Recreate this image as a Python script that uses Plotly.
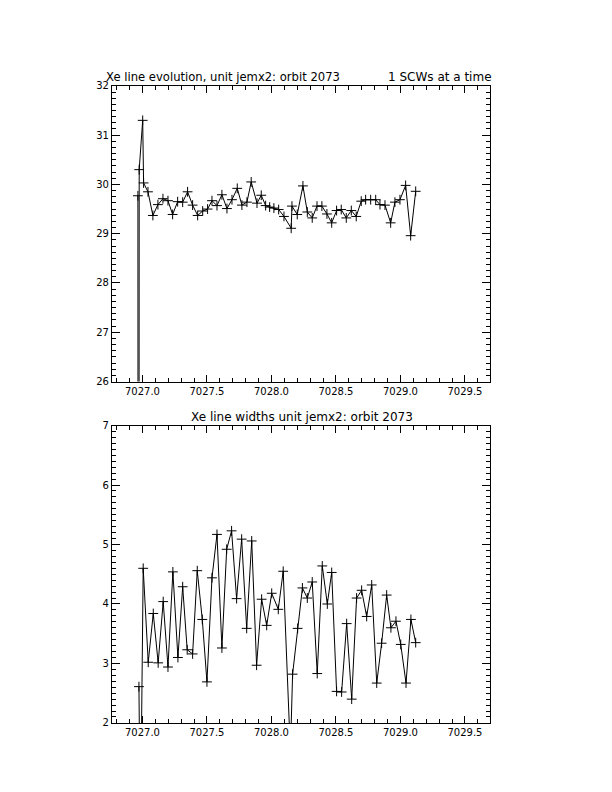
import plotly.graph_objects as go

# Xe line position per SCW (top panel)
t_pos = [7026.965, 7026.969, 7026.975, 7027.002, 7027.009, 7027.043, 7027.081, 7027.120,
         7027.159, 7027.198, 7027.234, 7027.273, 7027.312, 7027.350, 7027.389, 7027.428,
         7027.467, 7027.505, 7027.539, 7027.578, 7027.616, 7027.655, 7027.694, 7027.735,
         7027.771, 7027.810, 7027.843, 7027.888, 7027.921, 7027.955, 7027.986, 7028.019,
         7028.056, 7028.097, 7028.153, 7028.159, 7028.200, 7028.244, 7028.278, 7028.316,
         7028.353, 7028.391, 7028.430, 7028.467, 7028.505, 7028.541, 7028.580, 7028.619,
         7028.657, 7028.696, 7028.730, 7028.769, 7028.808, 7028.841, 7028.880, 7028.924,
         7028.957, 7028.996, 7029.040, 7029.079, 7029.118]
line_pos = [29.77, 0.0, 30.30, 31.30, 30.03, 29.85, 29.37, 29.59, 29.71, 29.67,
            29.39, 29.65, 29.64, 29.85, 29.58, 29.37, 29.46, 29.50, 29.67, 29.57,
            29.79, 29.51, 29.69, 29.92, 29.58, 29.64, 30.05, 29.62, 29.78, 29.57,
            29.54, 29.52, 29.49, 29.35, 29.11, 29.56, 29.39, 29.97, 29.44, 29.32,
            29.56, 29.56, 29.40, 29.22, 29.47, 29.49, 29.32, 29.47, 29.35, 29.66,
            29.69, 29.69, 29.69, 29.59, 29.58, 29.22, 29.64, 29.69, 29.98, 28.96,
            29.86]

# Xe line widths per SCW (bottom panel)
t_wid = [7026.973, 7026.984, 7027.006, 7027.045, 7027.084, 7027.122, 7027.161, 7027.198,
         7027.236, 7027.275, 7027.312, 7027.347, 7027.389, 7027.425, 7027.464, 7027.500,
         7027.539, 7027.578, 7027.616, 7027.653, 7027.691, 7027.730, 7027.769, 7027.808,
         7027.847, 7027.885, 7027.924, 7027.963, 7028.002, 7028.053, 7028.091, 7028.147,
         7028.164, 7028.203, 7028.240, 7028.278, 7028.316, 7028.355, 7028.394, 7028.433,
         7028.467, 7028.505, 7028.544, 7028.583, 7028.622, 7028.660, 7028.699, 7028.738,
         7028.777, 7028.816, 7028.854, 7028.893, 7028.926, 7028.965, 7029.002, 7029.043,
         7029.081, 7029.118]
line_wid = [2.61, 0.0, 4.60, 3.02, 3.84, 3.01, 4.04, 2.94, 4.54, 3.10,
            4.29, 3.23, 3.16, 4.56, 3.74, 2.69, 4.44, 5.17, 3.26, 4.92,
            5.23, 4.09, 5.09, 3.59, 5.06, 2.97, 4.08, 3.64, 4.18, 3.91,
            4.55, 1.50, 2.82, 3.59, 4.27, 4.10, 4.37, 2.83, 4.64, 4.00,
            4.53, 2.53, 2.52, 3.67, 2.40, 4.10, 4.23, 3.79, 4.32, 2.67,
            3.34, 4.15, 3.60, 3.71, 3.32, 2.67, 3.74, 3.35]

top_title = "Xe line evolution, unit jemx2: orbit 2073"
top_note = "1 SCWs at a time"
bottom_title = "Xe line widths unit jemx2: orbit 2073"

TICK_FONT = dict(family="DejaVu Sans", size=10, color="black")
mk = dict(symbol="cross-thin", size=7, line=dict(color="black", width=1))

fig = go.Figure()
fig.add_trace(go.Scatter(x=t_pos, y=line_pos, mode="lines+markers",
                         line=dict(color="black", width=1), marker=mk,
                         xaxis="x", yaxis="y"))
fig.add_trace(go.Scatter(x=t_wid, y=line_wid, mode="lines+markers",
                         line=dict(color="black", width=1), marker=mk,
                         xaxis="x2", yaxis="y2"))

# domains nudged to allow for the page margin in the photographed page
xdom = [0.1699, 0.7876]
xax = dict(domain=xdom, range=[7026.764, 7029.694], tick0=7027, dtick=0.5,
           tickformat=".1f", ticks="inside", ticklen=7, tickcolor="black",
           minor=dict(dtick=0.1, ticks="inside", ticklen=4, tickcolor="black"),
           showline=True, linecolor="black", linewidth=1, mirror="allticks",
           showgrid=False, zeroline=False, tickfont=TICK_FONT)
yax = dict(ticks="inside", ticklen=8, tickcolor="black", dtick=1,
           showline=True, linecolor="black", linewidth=1, mirror="allticks",
           showgrid=False, zeroline=False, tickfont=TICK_FONT)

fig.update_layout(
    width=612, height=792, autosize=False,
    margin=dict(l=0, r=0, t=0, b=0),
    paper_bgcolor="white", plot_bgcolor="white",
    showlegend=False,
    xaxis=dict(xax, anchor="y"),
    yaxis=dict(yax, domain=[0.5294, 0.9080], range=[26, 32], anchor="x",
               minor=dict(dtick=0.125, ticks="inside", ticklen=4, tickcolor="black")),
    xaxis2=dict(xax, anchor="y2"),
    yaxis2=dict(yax, domain=[0.0923, 0.4730], range=[2, 7], anchor="x2",
                minor=dict(dtick=0.1, ticks="inside", ticklen=4, tickcolor="black")),
    annotations=[
        dict(text=top_title, x=0.1569, y=0.9080, xref="paper", yref="paper",
             xanchor="left", yanchor="bottom", showarrow=False,
             font=dict(family="DejaVu Sans", size=11.6, color="black")),
        dict(text=top_note, x=0.7941, y=0.9080, xref="paper", yref="paper",
             xanchor="right", yanchor="bottom", showarrow=False,
             font=dict(family="DejaVu Sans", size=12, color="black")),
        dict(text=bottom_title, x=0.4804, y=0.4730, xref="paper", yref="paper",
             xanchor="center", yanchor="bottom", showarrow=False,
             font=dict(family="DejaVu Sans", size=12, color="black")),
    ],
)

fig.write_html("out.html")
